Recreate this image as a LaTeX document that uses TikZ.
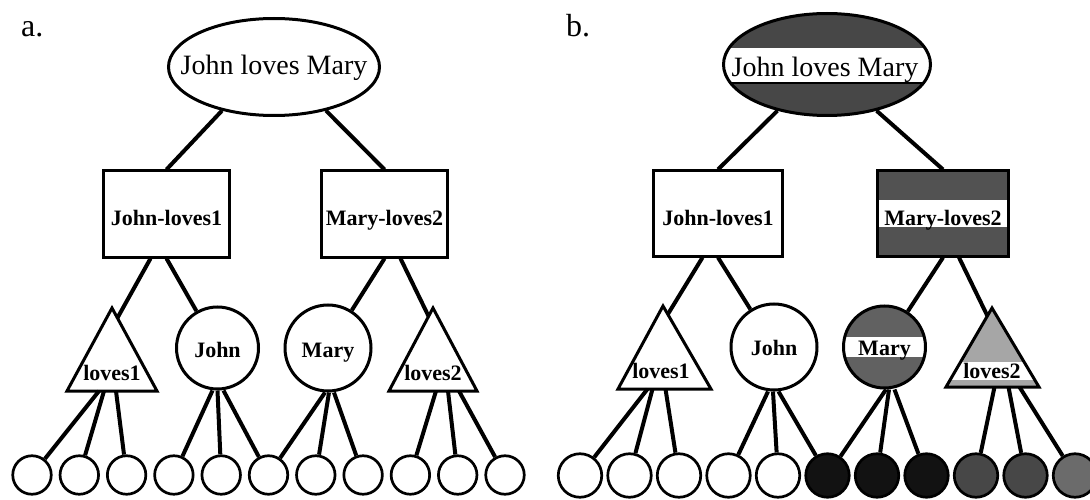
\documentclass[tikz,border=0pt]{standalone}
\usepackage{fontspec}
\setmainfont{Liberation Serif}
\usetikzlibrary{calc,shapes.geometric}
\begin{document}
\begin{tikzpicture}[x=1pt,y=-1pt,
  conn/.style={line width=4pt},
  shp/.style={draw, line width=3pt},
  biglbl/.style={font=\fontsize{28}{30}\selectfont},
  lbl/.style={font=\fontsize{22}{24}\selectfont\bfseries},
  panel/.style={font=\fontsize{32}{34}\selectfont, anchor=base west, inner sep=0pt},
  boxa/.style={shp, rectangle, minimum width=126pt, minimum height=86pt, inner sep=0pt, lbl, text height=22pt, text depth=0pt},
  circa/.style={shp, circle, inner sep=0pt, lbl, text height=18pt, text depth=0pt},
  circb/.style={shp, circle, inner sep=0pt, lbl, text height=16pt, text depth=0pt},
  leafa/.style={draw, line width=2.7pt, circle, minimum size=38.5pt, inner sep=0pt},
  leafb/.style={draw, line width=2.7pt, circle, minimum size=43.5pt, inner sep=0pt},
  tlbl/.style={lbl, anchor=base, inner sep=0pt}
]
\useasboundingbox (0,0) rectangle (1090,500);

% ================= panel a =================
\node[panel] (pa) at (21,37) {a.};
\node[ellipse, shp, minimum width=211pt, minimum height=97pt, inner sep=0pt] (ea) at (274,67) {};
\node[biglbl, anchor=base, inner sep=0pt] (eat) at (274,75) {John loves Mary};

\node[boxa] (ba1) at (166.5,214) {John-loves1};
\node[boxa] (ba2) at (384.5,214) {Mary-loves2};

\coordinate (ta1A) at (112,308);
\coordinate (ta1L) at (67,391);
\coordinate (ta1R) at (157,391);
\coordinate (ta1b) at (112,391);
\draw[shp, line join=miter] (ta1A) -- (ta1L) -- (ta1R) -- cycle;
\node[tlbl] (ta1t) at (112,380) {loves1};

\coordinate (ta2A) at (433,308);
\coordinate (ta2L) at (389,391);
\coordinate (ta2R) at (477,391);
\coordinate (ta2b) at (433,391);
\draw[shp, line join=miter] (ta2A) -- (ta2L) -- (ta2R) -- cycle;
\node[tlbl] (ta2t) at (433,380) {loves2};

\node[circa, minimum size=82pt] (ca1) at (217.5,348) {John};
\node[circa, minimum size=86pt] (ca2) at (328,348) {Mary};

\foreach \i in {1,...,11} {
  \node[leafa] (la\i) at ({32+47.3*(\i-1)},475) {};
}

\coordinate (ta1e) at ($(ta1A)!0.12!(ta1R)$);
\coordinate (ta2e) at ($(ta2A)!0.10!(ta2L)$);
\draw[conn] (ea.-140) -- (ba1.north);
\draw[conn] (ea.-40) -- (ba2.north);
\draw[conn] ([xshift=-16pt]ba1.south) -- (ta1e);
\draw[conn] (ba1.south) -- (ca1);
\draw[conn] (ba2.south) -- (ca2);
\draw[conn] ([xshift=16pt]ba2.south) -- (ta2e);

\draw[conn] ([xshift=-13pt]ta1b) -- (la1);
\draw[conn] ([xshift=-8pt]ta1b) -- (la2);
\draw[conn] ([xshift=4pt]ta1b) -- (la3);
\draw[conn] ([xshift=-5pt]ca1.south) -- (la4);
\draw[conn] (ca1.south) -- (la5);
\draw[conn] ([xshift=6pt]ca1.south) -- (la6);
\draw[conn] ([xshift=-3pt]ca2.south) -- (la6);
\draw[conn] ([xshift=1pt]ca2.south) -- (la7);
\draw[conn] ([xshift=6pt]ca2.south) -- (la8);
\draw[conn] ([xshift=3pt]ta2b) -- (la9);
\draw[conn] ([xshift=15pt]ta2b) -- (la10);
\draw[conn] ([xshift=26pt]ta2b) -- (la11);

% ================= panel b =================
\node[panel] (pb) at (566,37) {b.};

% ellipse fill with white band
\fill[black!72] (827,64.5) ellipse [x radius=103.5pt, y radius=51pt];
\begin{scope}
  \clip (827,64.5) ellipse [x radius=103.5pt, y radius=51pt];
  \fill[white] (700,48) rectangle (960,83);
  \draw[line width=2.2pt] (700,83) -- (960,83);
\end{scope}
\node[ellipse, shp, minimum width=207pt, minimum height=102pt, inner sep=0pt] (eb) at (827,64.5) {};
\node[biglbl, anchor=base, inner sep=0pt] (ebt) at (825,77) {John loves Mary};

% boxes
\node[boxa, minimum width=129pt, minimum height=85pt, text height=23pt] (bb1) at (718,213.5) {John-loves1};
\fill[black!68] (877.5,171) rectangle (1008.5,256);
\fill[white] (877.5,200) rectangle (1008.5,227);
\node[boxa, minimum width=131pt, minimum height=85pt, text height=23pt] (bb2) at (943,213.5) {Mary-loves2};

% triangle loves1
\coordinate (tb1A) at (663,306);
\coordinate (tb1L) at (618,389);
\coordinate (tb1R) at (711,389);
\coordinate (tb1b) at (664.5,389);
\draw[shp, line join=miter] (tb1A) -- (tb1L) -- (tb1R) -- cycle;
\node[tlbl] (tb1t) at (661,378) {loves1};

% triangle loves2, shaded with band
\coordinate (tb2A) at (992,308);
\coordinate (tb2L) at (946,387);
\coordinate (tb2R) at (1039,387);
\coordinate (tb2b) at (992.5,387);
\fill[black!35] (tb2A) -- (tb2L) -- (tb2R) -- cycle;
\begin{scope}
  \clip (tb2A) -- (tb2L) -- (tb2R) -- cycle;
  \fill[white] (930,362) rectangle (1050,380);
\end{scope}
\draw[shp, line join=miter] (tb2A) -- (tb2L) -- (tb2R) -- cycle;
\node[tlbl] (tb2t) at (992,378) {loves2};

% circles
\node[circb, minimum size=86pt] (cb1) at (774,347) {John};
\fill[black!62] (884.5,347) circle [radius=41pt];
\begin{scope}
  \clip (884.5,347) circle [radius=41pt];
  \fill[white] (830,337) rectangle (940,357);
\end{scope}
\node[circb, minimum size=82pt] (cb2) at (884.5,347) {Mary};

% leaves
\foreach \i/\c in {1/white,2/white,3/white,4/white,5/white,6/black!93,7/black!93,8/black!93,9/black!72,10/black!72,11/black!58} {
  \node[leafb, fill=\c] (lb\i) at ({580+49.5*(\i-1)},475.5) {};
}

\coordinate (tb1e) at ($(tb1A)!0.10!(tb1R)$);
\coordinate (tb2e) at ($(tb2A)!0.10!(tb2L)$);
\draw[conn] (eb.-137) -- (bb1.north);
\draw[conn] (eb.-43) -- (bb2.north);
\draw[conn] ([xshift=-15.5pt]bb1.south) -- (tb1e);
\draw[conn] (bb1.south) -- (cb1);
\draw[conn] (bb2.south) -- (cb2);
\draw[conn] ([xshift=16pt]bb2.south) -- (tb2e);

\draw[conn] ([xshift=-17pt]tb1b) -- (lb1);
\draw[conn] ([xshift=-12pt]tb1b) -- (lb2);
\draw[conn] ([xshift=1pt]tb1b) -- (lb3);
\draw[conn] ([xshift=-6pt]cb1.south) -- (lb4);
\draw[conn] ([xshift=-1pt]cb1.south) -- (lb5);
\draw[conn] ([xshift=4.5pt]cb1.south) -- (lb6);
\draw[conn] ([xshift=1.5pt]cb2.south) -- (lb6);
\draw[conn] ([xshift=4.5pt]cb2.south) -- (lb7);
\draw[conn] ([xshift=10pt]cb2.south) -- (lb8);
\draw[conn] ([xshift=2pt]tb2b) -- (lb9);
\draw[conn] ([xshift=16pt]tb2b) -- (lb10);
\draw[conn] ([xshift=27pt]tb2b) -- (lb11);
\end{tikzpicture}
\end{document}
